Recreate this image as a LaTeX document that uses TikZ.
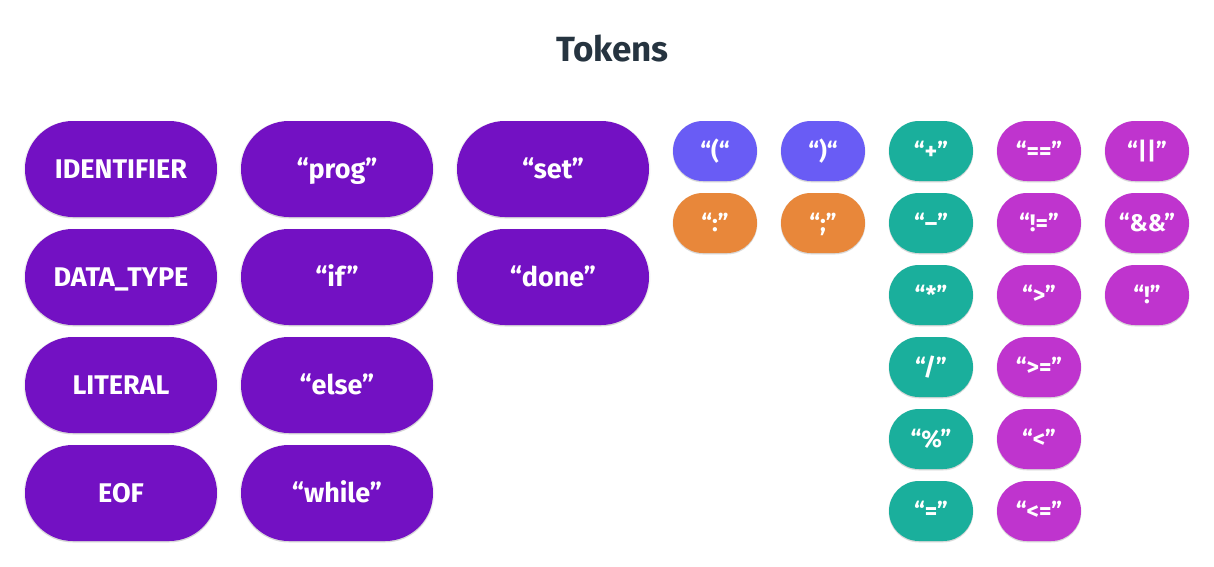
\documentclass[tikz,border=0pt]{standalone}
\usepackage{fontspec}
\setmainfont{Fira Sans}
\usetikzlibrary{shadows}
\definecolor{titlec}{HTML}{263440}
\definecolor{kwpurple}{HTML}{7311C3}
\definecolor{parblue}{HTML}{695CF5}
\definecolor{punorange}{HTML}{E8873A}
\definecolor{artteal}{HTML}{1AAF9C}
\definecolor{logmag}{HTML}{BF34CE}
\tikzset{
  pillshadow/.style={drop shadow={shadow xshift=0pt,shadow yshift=-1.5pt,opacity=0.10,fill=black},
                     drop shadow={shadow scale=1.015,shadow xshift=0pt,shadow yshift=-0.5pt,opacity=0.06,fill=black}},
  bigpill/.style={pillshadow,fill=kwpurple,draw=none,minimum width=192pt,minimum height=96pt,
     rounded corners=47.9pt,inner sep=0pt,text=white,font=\bfseries\fontsize{27}{31}\selectfont,
     text height=18.6pt,text depth=0pt},
  smallpill/.style={pillshadow,draw=none,minimum width=84pt,minimum height=60pt,
     rounded corners=29.9pt,inner sep=0pt,text=white,font=\bfseries\fontsize{24}{28}\selectfont,
     text height=16.5pt,text depth=0pt},
}
\begin{document}
\begin{tikzpicture}[x=1pt,y=-1pt]
\useasboundingbox (0,0) rectangle (1214,566);
\node[text=titlec,font=\bfseries\fontsize{35}{40}\selectfont,inner sep=0pt,text height=24pt,text depth=0pt] (title) at (612.5,49) {Tokens};
% big pills
\node[bigpill] (ident) at (121,169) {IDENTIFIER};
\node[bigpill] (dtype) at (121,277) {DATA\_TYPE};
\node[bigpill] (lit) at (121,385) {LITERAL};
\node[bigpill] (eof) at (121,493) {EOF};
\node[bigpill] (prog) at (337,169) {“prog”};
\node[bigpill] (if) at (337,277) {“if”};
\node[bigpill] (else) at (337,385) {“else”};
\node[bigpill] (while) at (337,493) {“while”};
\node[bigpill] (set) at (553,169) {“set”};
\node[bigpill] (done) at (553,277) {“done”};
% small pills
\node[smallpill,fill=parblue] (lpar) at (715,151) {“(“};
\node[smallpill,fill=parblue] (rpar) at (823,151) {“)“};
\node[smallpill,fill=punorange] (colon) at (715,223) {“:”};
\node[smallpill,fill=punorange] (semi) at (823,223) {“;”};
\node[smallpill,fill=artteal] (plus) at (931,151) {“+”};
\node[smallpill,fill=artteal] (minus) at (931,223) {“–”};
\node[smallpill,fill=artteal] (times) at (931,295) {“*”};
\node[smallpill,fill=artteal] (div) at (931,367) {“/”};
\node[smallpill,fill=artteal] (mod) at (931,439) {“\%”};
\node[smallpill,fill=artteal] (assign) at (931,511) {“=”};
\node[smallpill,fill=logmag] (eq) at (1039,151) {“==”};
\node[smallpill,fill=logmag] (neq) at (1039,223) {“!=”};
\node[smallpill,fill=logmag] (gt) at (1039,295) {“>”};
\node[smallpill,fill=logmag] (ge) at (1039,367) {“>=”};
\node[smallpill,fill=logmag] (lt) at (1039,439) {“<”};
\node[smallpill,fill=logmag] (le) at (1039,511) {“<=”};
\node[smallpill,fill=logmag] (or) at (1147,151) {“||”};
\node[smallpill,fill=logmag] (and) at (1147,223) {“\&\&”};
\node[smallpill,fill=logmag] (not) at (1147,295) {“!”};
\end{tikzpicture}
\end{document}
